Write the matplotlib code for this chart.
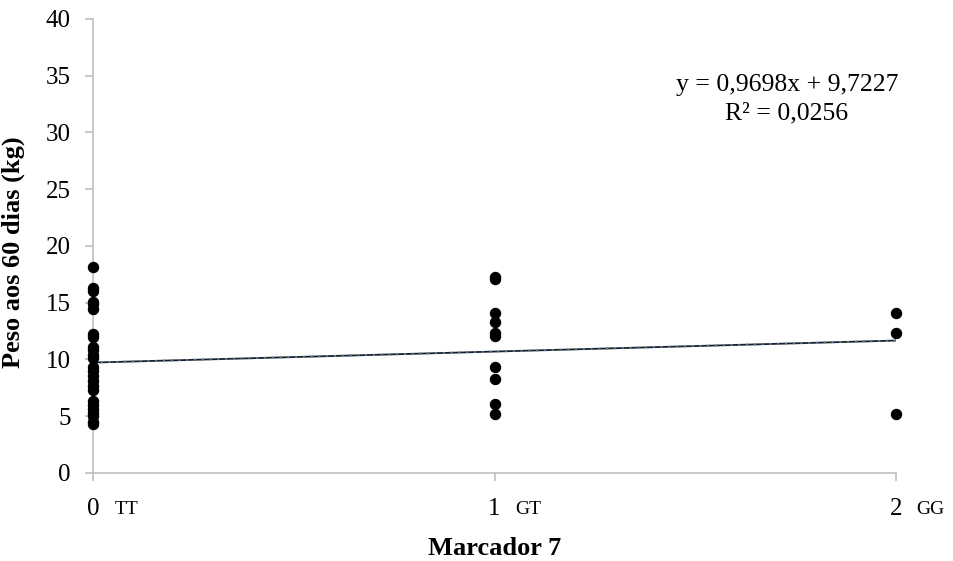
import numpy as np
import matplotlib.pyplot as plt

plt.rcParams['font.family'] = ['Liberation Serif', 'DejaVu Serif']

# genotype coded 0 = TT, 1 = GT, 2 = GG
peso_tt = [18.1, 16.3, 16.0, 15.1, 14.9, 14.4, 12.2, 12.0, 11.1, 10.8, 10.4, 10.1,
           9.3, 9.0, 8.5, 8.1, 7.7, 7.3, 6.3, 6.0, 5.6, 5.3, 5.0, 4.5, 4.3]
peso_gt = [17.3, 17.1, 14.1, 13.3, 12.3, 12.1, 9.3, 8.3, 6.1, 5.2]
peso_gg = [14.1, 12.3, 5.2]

slope = 0.9698
intercept = 9.7227
r2 = 0.0256

codes = [0, 1, 2]
genotypes = ['TT', 'GT', 'GG']

x = [0] * len(peso_tt) + [1] * len(peso_gt) + [2] * len(peso_gg)
y = peso_tt + peso_gt + peso_gg

fig = plt.figure(figsize=(9.54, 5.61), dpi=100)
ax = fig.add_axes([0.0975, 0.157, 0.8417, 0.8093])

ax.scatter(x, y, s=52, color='black', zorder=3, clip_on=False)

# linear trend line (dark line with blue dots on top, like Excel's)
xt = np.array([0, 2])
ax.plot(xt, slope * xt + intercept, color='#1f1f1f', lw=1.3, zorder=2)
ax.plot(xt, slope * xt + intercept, color='#4f81bd', lw=1.4, ls=(0, (1, 3)), zorder=2)

ax.set_xlim(0, 2)
ax.set_ylim(0, 40)
ax.set_yticks(range(0, 41, 5))
ax.set_xticks(codes)
ax.set_xticklabels([str(c) for c in codes])

for sp in ['top', 'right']:
    ax.spines[sp].set_visible(False)
for sp in ['left', 'bottom']:
    ax.spines[sp].set_color('#bfbfbf')
    ax.spines[sp].set_linewidth(1.2)
ax.tick_params(axis='both', colors='#bfbfbf', labelcolor='black', labelsize=18,
               length=6, width=1.2, direction='out')
ax.tick_params(axis='y', pad=10)
ax.tick_params(axis='x', pad=12)

for c, g in zip(codes, genotypes):
    ax.annotate(g, xy=(c, 0), xycoords=('data', 'axes fraction'),
                xytext=(24.5, -29.5), textcoords='offset points',
                ha='center', va='baseline', fontsize=14)

ax.set_xlabel('Marcador 7', fontsize=19, fontweight='bold')
ax.xaxis.set_label_coords(0.5, -0.141)
ax.set_ylabel('Peso aos 60 dias (kg)', fontsize=19, fontweight='bold')
ax.yaxis.set_label_coords(-0.085, 0.487)

ax.text(1.728, 34.2, f'y = {slope:.4f}x + {intercept:.4f}'.replace('.', ','),
        ha='center', va='center', fontsize=18.5)
ax.text(1.728, 31.7, f'R² = {r2:.4f}'.replace('.', ','),
        ha='center', va='center', fontsize=18.5)

plt.savefig('out.png', dpi=100)
